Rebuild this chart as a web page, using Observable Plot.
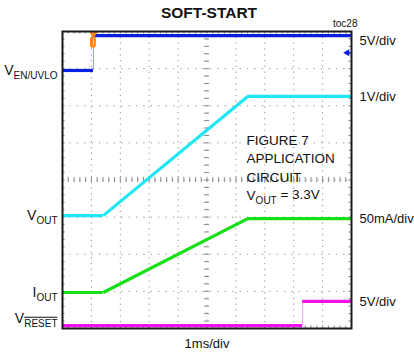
<!DOCTYPE html>
<html>
<head>
<meta charset="utf-8">
<script src="https://cdn.jsdelivr.net/npm/d3@7"></script>
<script src="https://cdn.jsdelivr.net/npm/@observablehq/plot@0.6"></script>
<style>
  html, body { margin: 0; padding: 0; background: #fff; }
  #chart { width: 414px; height: 356px; }
</style>
</head>
<body>
<div id="chart"></div>
<script>
// ---- Data (scope divisions: x 0..10, y 0..8) ----
const TITLE = "SOFT-START";
const TOC = "toc28";
const TIMEBASE = "1ms/div";

// V_EN/UVLO (blue)
const enT = [0, 1.07, 1.07, 10];
const enV = [6.95, 6.95, 7.89, 7.89];
// V_OUT (cyan)
const voutT = [0, 1.41, 6.41, 10];
const voutV = [3.04, 3.04, 6.25, 6.25];
// I_OUT (green)
const ioutT = [0, 1.41, 6.41, 10];
const ioutV = [0.97, 0.97, 2.96, 2.96];
// V_RESET (magenta)
const rstT = [0, 8.31, 8.31, 10];
const rstV = [0.08, 0.08, 0.73, 0.73];

// Channel labels
const leftMain = ["V", "V", "I", "V"];
const leftSub = ["EN/UVLO", "OUT", "OUT", "RESET"];
const leftY = [6.95, 3.04, 0.97, 0.27];
const rightText = ["5V/div", "1V/div", "50mA/div", "5V/div"];
const rightY = [7.75, 6.25, 2.96, 0.73];

// Annotation
const noteLines = ["FIGURE 7", "APPLICATION", "CIRCUIT", "V|OUT| = 3.3V"];
const noteX = 6.37;
const noteY = [5.06, 4.58, 4.07, 3.58];

// Markers
const trigX = [1.07];
const trigPill = [{x1: 0.97, x2: 1.17, y1: 7.55, y2: 7.86}];
const refMark = [{x: 9.85, y: 7.43}];

// Grid
const xDivs = d3.range(0, 11);
const yDivs = d3.range(0, 9);
const xMinor = d3.range(0, 50.5).map(i => i / 5);
const yMinor = d3.range(0, 40.5).map(i => i / 5);

const BLUE = "#0a1ee0", CYAN = "#1ee6f5", GREEN = "#18e018", MAGENTA = "#f010f0", ORANGE = "#f5821f";

function flats(t, v) {
  const out = [];
  for (let i = 0; i + 1 < t.length; i++) if (v[i] === v[i + 1]) out.push({x1: t[i], x2: t[i + 1], y: v[i]});
  return out;
}
function ramps(t, v) {
  const out = [];
  for (let i = 0; i + 1 < t.length; i++) if (v[i] !== v[i + 1] && t[i] !== t[i + 1]) out.push({x1: t[i], x2: t[i + 1], y1: v[i], y2: v[i + 1]});
  return out;
}
function edges(t, v) {
  const out = [];
  for (let i = 0; i + 1 < t.length; i++) if (t[i] === t[i + 1]) out.push({x: t[i], y1: v[i], y2: v[i + 1]});
  return out;
}

const tickLen = 0.07;
const tickLenX = 0.09;

const traces = [
  {t: enT, v: enV, c: BLUE, edge: "#8fa0f5"},
  {t: voutT, v: voutV, c: CYAN},
  {t: ioutT, v: ioutV, c: GREEN},
  {t: rstT, v: rstV, c: MAGENTA, edge: "#f7a0f7"}
];

const traceMarks = traces.flatMap(tr => [
  Plot.ruleX(edges(tr.t, tr.v), {x: "x", y1: "y1", y2: "y2", stroke: tr.edge || tr.c, strokeWidth: 1}),
  Plot.ruleY(flats(tr.t, tr.v), {x1: "x1", x2: "x2", y: "y", stroke: tr.c, strokeWidth: 3.2}),
  Plot.link(ramps(tr.t, tr.v), {x1: "x1", x2: "x2", y1: "y1", y2: "y2", stroke: tr.c, strokeWidth: 3.2})
]);

const FONT = "'Liberation Sans', Arial, Helvetica, sans-serif";

const chart = Plot.plot({
  width: 414,
  height: 356,
  marginLeft: 62,
  marginRight: 63,
  marginTop: 31,
  marginBottom: 28,
  x: {domain: [0, 10], axis: null},
  y: {domain: [0, 8], axis: null},
  style: {fontFamily: FONT, background: "#fff", overflow: "visible", color: "#111"},
  marks: [
    Plot.ruleX(xDivs.filter(d => d !== 0 && d !== 10 && d !== 5), {x: d => d, stroke: "#8c8c8c", strokeWidth: 1, strokeDasharray: "1.2,4.6"}),
    Plot.ruleY(yDivs.filter(d => d !== 0 && d !== 8 && d !== 4), {y: d => d, stroke: "#8c8c8c", strokeWidth: 1, strokeDasharray: "1.2,6.2"}),
    Plot.ruleX([5], {x: d => d, stroke: "#9a9a9a", strokeWidth: 1, strokeDasharray: "1.2,6.2"}),
    Plot.ruleY([4], {y: d => d, stroke: "#9a9a9a", strokeWidth: 1, strokeDasharray: "1.2,4.6"}),
    Plot.ruleX(xMinor, {x: d => d, y1: 4 - tickLen, y2: 4 + tickLen, stroke: "#8c8c8c", strokeWidth: 1}),
    Plot.ruleY(yMinor, {y: d => d, x1: 5 - tickLenX, x2: 5 + tickLenX, stroke: "#8c8c8c", strokeWidth: 1}),
    Plot.ruleX(xMinor, {x: d => d, y1: 8, y2: 8 - tickLen, stroke: "#8c8c8c", strokeWidth: 1}),
    Plot.ruleX(xMinor, {x: d => d, y1: 0, y2: tickLen, stroke: "#8c8c8c", strokeWidth: 1}),
    Plot.ruleY(yMinor, {y: d => d, x1: 0, x2: tickLenX, stroke: "#8c8c8c", strokeWidth: 1}),
    Plot.ruleY(yMinor, {y: d => d, x1: 10, x2: 10 - tickLenX, stroke: "#8c8c8c", strokeWidth: 1}),
    ...traceMarks,
    Plot.rect(trigPill, {x1: "x1", x2: "x2", y1: "y1", y2: "y2", fill: ORANGE, rx: 3}),
    Plot.ruleX(trigX, {x: d => d, y1: 7.6, y2: 7.82, stroke: "#fcd0a8", strokeWidth: 1}),
    Plot.dot(trigX, {x: d => d, y: 7.94, symbol: "triangle", rotate: 180, r: 3.4, fill: ORANGE, stroke: null}),
    Plot.dot(refMark, {x: "x", y: "y", symbol: "triangle", rotate: -90, r: 2.6, fill: BLUE, stroke: null}),
    Plot.ruleY(refMark, {y: "y", x1: "x", x2: d => d.x + 0.14, stroke: BLUE, strokeWidth: 1.5}),
    Plot.frame({stroke: "#1a1a1a", strokeWidth: 2}),
    Plot.text([TITLE], {frameAnchor: "top", lineAnchor: "middle", dy: -18.5, dx: 2, text: d => d, fontSize: 15.5, fontWeight: "bold", fill: "#111"}),
    Plot.text([TOC], {frameAnchor: "top-right", lineAnchor: "middle", dx: 6, dy: -8, text: d => d, fontSize: 10, textAnchor: "end", fill: "#111"}),
    Plot.text([TIMEBASE], {frameAnchor: "bottom", lineAnchor: "middle", dy: 15, text: d => d, fontSize: 13, fill: "#111"}),
    Plot.text(rightText, {x: 10, y: (d, i) => rightY[i], text: d => d, dx: 8, textAnchor: "start", fontSize: 13, fill: "#111"}),
    Plot.text(leftMain, {x: 0, y: (d, i) => leftY[i], text: (d, i) => d + "\u2009" + leftSub[i], dx: -5, textAnchor: "end", fontSize: 14, fill: "#111"}),
    Plot.text(noteLines, {x: noteX, y: (d, i) => noteY[i], text: d => d.replace(/\|/g, "\u2009"), textAnchor: "start", fontSize: 13.5, fill: "#111"})
  ]
});

document.getElementById("chart").appendChild(chart);

// Subscripts / overline as tspans (matched by text content)
const svg = d3.select(chart);
svg.selectAll("text").each(function () {
  const content = this.textContent;
  const li = leftMain.findIndex((m, i) => content === m + "\u2009" + leftSub[i]);
  if (li >= 0) {
    const t = d3.select(this);
    t.selectAll("*").remove();
    t.text(null);
    t.append("tspan").text(leftMain[li]);
    const s = t.append("tspan").attr("font-size", 10).attr("dy", "0.38em").text(leftSub[li]);
    if (leftSub[li] === "RESET") s.style("text-decoration", "overline");
    return;
  }
  const ni = noteLines.findIndex(n => content === n.replace(/\|/g, "\u2009"));
  if (ni >= 0) {
    const parts = noteLines[ni].split("|");
    if (parts.length < 3) return;
    const t = d3.select(this);
    t.selectAll("*").remove();
    t.text(null);
    t.append("tspan").text(parts[0]);
    t.append("tspan").attr("font-size", 10).attr("dy", "0.38em").text(parts[1]);
    t.append("tspan").attr("dy", "-0.38em").text(parts[2]);
  }
});
</script>
</body>
</html>
